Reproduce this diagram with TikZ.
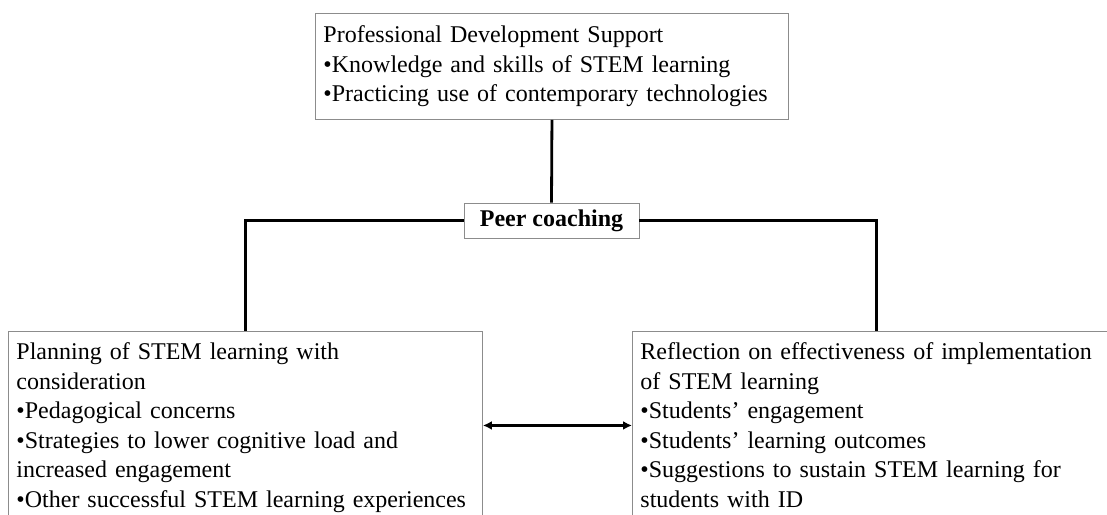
\documentclass[tikz,border=0pt]{standalone}
\usepackage{fontspec}
\setmainfont{Liberation Serif}
\usetikzlibrary{arrows.meta,positioning}

% extra room above the first line of a box
\newcommand{\toppad}{\rule{0pt}{24.5pt}}

\begin{document}
\begin{tikzpicture}[
    x=1pt, y=-1pt,
    >={Latex[length=9pt,width=9pt]},
    box/.style={draw=black!45, line width=0.9pt, anchor=north west, align=left,
      inner xsep=8pt, inner ysep=0pt, font=\fontsize{24}{29.5}\selectfont},
    link/.style={line width=2.8pt}
  ]
  \clip (0,0) rectangle (1107,514);

  % top box and the coaching hub
  \node[box, text width=457pt, minimum height=106pt] (pds) at (315,13)
    {Professional Development Support\\
     •Knowledge and skills of STEM learning\\
     •Practicing use of contemporary technologies};
  \node[draw=black!45, line width=0.9pt, minimum width=175pt, minimum height=35pt,
        font=\fontsize{24}{28}\selectfont\bfseries] (peer) at (551.5,220.5) {Peer coaching};

  % the two lower boxes run past the page edge
  \node[box, text width=458pt, minimum height=188pt] (plan) at (8,331)
    {\toppad Planning of STEM learning with\\
     consideration\\
     •Pedagogical concerns\\
     •Strategies to lower cognitive load and\\
     increased engagement\\
     •Other successful STEM learning experiences\strut};
  \node[box, text width=472pt, minimum height=188pt] (refl) at (632,331)
    {\toppad Reflection on effectiveness of implementation\\
     of STEM learning\\
     •Students’ engagement\\
     •Students’ learning outcomes\\
     •Suggestions to sustain STEM learning for\\
     students with ID\strut};

  \draw[link] (peer.north) -- (pds.south);
  \draw[link] (peer.west) -| (plan.north);
  \draw[link] (peer.east) -| (refl.north);
  \draw[link, line width=2.4pt, <->] (plan.east) -- (refl.west);
\end{tikzpicture}
\end{document}
